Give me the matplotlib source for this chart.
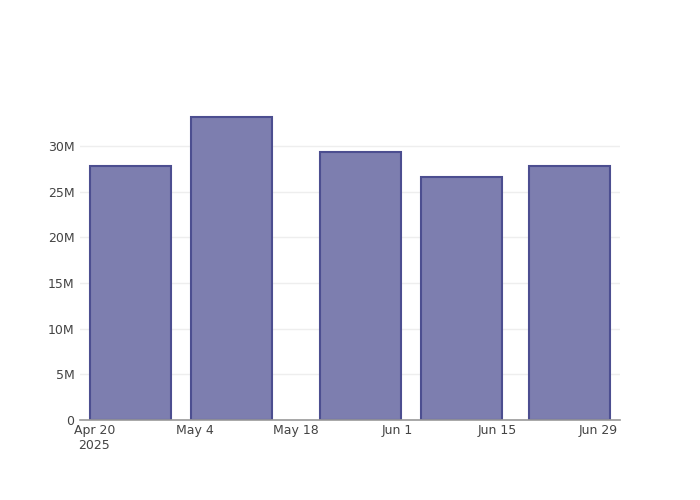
import matplotlib
matplotlib.use("Agg")
import matplotlib.pyplot as plt
import matplotlib.dates as mdates
from matplotlib.ticker import FuncFormatter
import datetime as dt

dates = ["2025-04-25", "2025-05-09", "2025-05-27", "2025-06-10", "2025-06-25"]
values = [27.8e6, 33.2e6, 29.4e6, 26.6e6, 27.8e6]
tick_dates = ["2025-04-20", "2025-05-04", "2025-05-18", "2025-06-01", "2025-06-15", "2025-06-29"]
tick_labels = ["Apr 20\n2025", "May 4", "May 18", "Jun 1", "Jun 15", "Jun 29"]
y_ticks = [0, 5e6, 10e6, 15e6, 20e6, 25e6, 30e6]

x = [mdates.date2num(dt.date.fromisoformat(d)) for d in dates]
xt = [mdates.date2num(dt.date.fromisoformat(d)) for d in tick_dates]

fig = plt.figure(figsize=(7, 5), dpi=100)
ax = fig.add_axes([80/700, 80/500, 540/700, 320/500])

ax.bar(x, values, width=11.2, color="#7d7eaf", edgecolor="#4c4e90", linewidth=1.5, zorder=3)

ax.set_xlim(x[0] - 7, x[-1] + 7)
ax.set_ylim(0, 35.04e6)
ax.set_xticks(xt)
ax.set_xticklabels(tick_labels, ha="center")
for lab in ax.get_xticklabels():
    lab.set_multialignment("center")
ax.set_yticks(y_ticks)
ax.yaxis.set_major_formatter(FuncFormatter(lambda v, p: "0" if v == 0 else f"{int(v/1e6)}M"))

ax.grid(axis="y", color="#eeeeee", linewidth=1, zorder=0)
ax.tick_params(axis="both", length=0, labelsize=9, colors="#444444", pad=4)
ax.tick_params(axis="x", pad=3)
for s in ["top", "right", "left"]:
    ax.spines[s].set_visible(False)
ax.spines["bottom"].set_color("#999999")
ax.spines["bottom"].set_linewidth(1.2)
ax.spines["bottom"].set_zorder(4)

fig.savefig("out.png", dpi=100)
